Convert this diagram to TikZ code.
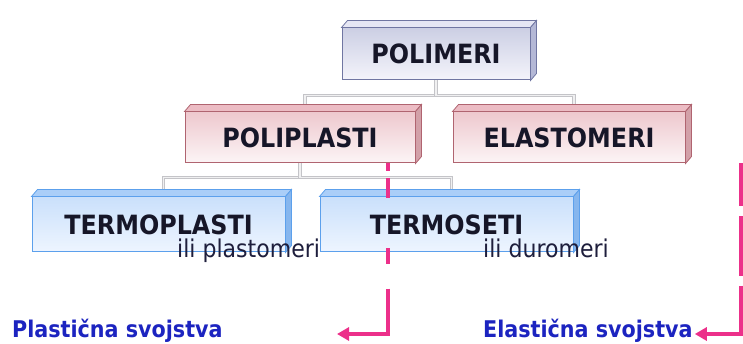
\documentclass[tikz,border=0pt]{standalone}
\usepackage{fontspec}
\setmainfont{DejaVu Sans Condensed}
\usetikzlibrary{arrows.meta}

\definecolor{boxtext}{RGB}{22,22,40}
\definecolor{ilitext}{RGB}{30,30,60}
\definecolor{captext}{RGB}{28,36,192}
\definecolor{arrowpink}{RGB}{236,48,138}
\definecolor{treegray}{RGB}{196,196,200}
\definecolor{lavline}{RGB}{112,118,162}
\definecolor{lavfronta}{RGB}{204,207,228}
\definecolor{lavfrontb}{RGB}{244,244,251}
\definecolor{lavtop}{RGB}{230,231,244}
\definecolor{lavside}{RGB}{180,184,214}
\definecolor{pinkline}{RGB}{176,100,112}
\definecolor{pinkfronta}{RGB}{238,200,206}
\definecolor{pinkfrontb}{RGB}{252,245,246}
\definecolor{pinktop}{RGB}{236,188,196}
\definecolor{pinkside}{RGB}{210,160,168}
\definecolor{blueline}{RGB}{92,160,236}
\definecolor{bluefronta}{RGB}{202,224,251}
\definecolor{bluefrontb}{RGB}{238,245,255}
\definecolor{bluetop}{RGB}{170,206,248}
\definecolor{blueside}{RGB}{134,182,238}

\begin{document}
\begin{tikzpicture}[x=1pt,y=-1pt,
  box/.style={rectangle, line width=1pt, inner sep=0pt, text=boxtext, font=\bfseries\fontsize{26.5}{30}\selectfont},
  lavbox/.style={box, draw=lavline, top color=lavfronta, bottom color=lavfrontb},
  pinkbox/.style={box, draw=pinkline, top color=pinkfronta, bottom color=pinkfrontb},
  bluebox/.style={box, draw=blueline, top color=bluefronta, bottom color=bluefrontb},
  ili/.style={anchor=base west, inner sep=0pt, text=ilitext, font=\fontsize{24.5}{28}\selectfont},
  caption/.style={anchor=base west, inner sep=2pt, text=captext, font=\bfseries\fontsize{23}{26}\selectfont},
  tree/.style={draw=treegray, double=treegray!25, double distance=1.8pt, line width=0.7pt},
  pinkarrow/.style={draw=arrowpink, line width=3.6pt, -{Triangle[length=12pt,width=13pt]}}]
\useasboundingbox (0,0) rectangle (743,344);

\node[lavbox, minimum width=188pt, minimum height=52pt] (polimeri) at (436,54) {POLIMERI};
\node[pinkbox, minimum width=230pt, minimum height=51pt] (poliplasti) at (300,137.5) {POLIPLASTI};
\node[pinkbox, minimum width=232pt, minimum height=51pt] (elastomeri) at (569,137.5) {ELASTOMERI};

\draw[tree] (polimeri.south) -- ++(0,15) -| ([shift={(5,-7)}]poliplasti.north);
\draw[tree] (polimeri.south) -- ++(0,15) -| ([shift={(5,-7)}]elastomeri.north);
\draw[tree] (poliplasti.south) -- ++(0,14) -| (163.5,190);
\draw[tree] (poliplasti.south) -- ++(0,14) -| (451.5,190);

\node[bluebox, minimum width=253pt, minimum height=55pt] (termoplasti) at (158.5,224.5) {TERMOPLASTI};
\node[bluebox, minimum width=253pt, minimum height=55pt] (termoseti) at (446.5,224.5) {TERMOSETI};

\foreach \n/\tc/\sc/\dc in {polimeri/lavtop/lavside/lavline, poliplasti/pinktop/pinkside/pinkline, elastomeri/pinktop/pinkside/pinkline, termoplasti/bluetop/blueside/blueline, termoseti/bluetop/blueside/blueline}
{
  \filldraw[fill=\tc, draw=\dc, line width=0.8pt] (\n.north west) -- ++(6,-7) -- ([shift={(6,-7)}]\n.north east) -- (\n.north east) -- cycle;
  \filldraw[fill=\sc, draw=\dc, line width=0.8pt] (\n.north east) -- ++(6,-7) -- ([shift={(6,-7)}]\n.south east) -- (\n.south east) -- cycle;
}

\node[ili] (plastomeri) at (177,258) {ili plastomeri};
\node[ili] (duromeri) at (483,258) {ili duromeri};

\node[caption] (plasticna) at (10,337) {Plastična svojstva};
\node[caption] (elasticna) at (481,337) {Elastična svojstva};

\coordinate (pbend) at (388,334);
\coordinate (ptip) at (337,334);
\coordinate (ebend) at (741,334);
\draw[pinkarrow, dash pattern=on 8pt off 7pt on 20pt off 50pt on 16pt off 24pt on 140pt] (pbend |- poliplasti.south) -- (pbend) -- (ptip);
\draw[pinkarrow, dash pattern=on 43pt off 10pt on 59pt off 10pt on 140pt] (ebend |- elastomeri.south) -- (ebend) -- (ebend -| elasticna.east);

\end{tikzpicture}
\end{document}
